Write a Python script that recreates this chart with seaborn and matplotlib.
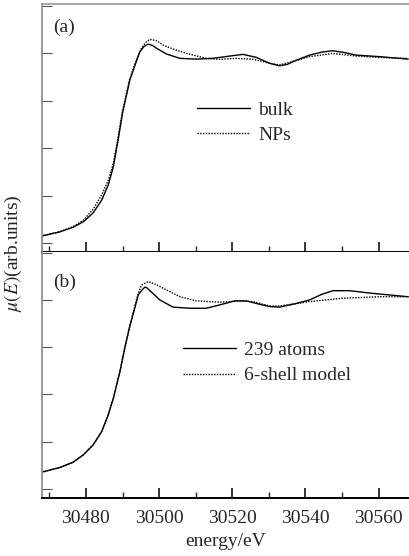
import matplotlib
matplotlib.use("Agg")
import matplotlib.pyplot as plt
import seaborn as sns
import pandas as pd
from matplotlib import font_manager
from matplotlib.ticker import MultipleLocator

# panel (a): bulk vs NPs
energy_a_bulk = [30467.9, 30472.9, 30476.5, 30479.3, 30482.0, 30484.3, 30486.1, 30487.5,
                 30488.8, 30490.0, 30492.0, 30493.4, 30494.7, 30495.9, 30497.0, 30498.2,
                 30499.3, 30502.0, 30505.7, 30510.2, 30514.7, 30519.3, 30522.9, 30526.6,
                 30530.2, 30532.9, 30535.0, 30537.0, 30541.1, 30544.5, 30547.4, 30550.5,
                 30553.9, 30560.2, 30568.1]
mu_a_bulk = [0.037, 0.059, 0.083, 0.112, 0.159, 0.226, 0.305, 0.402,
             0.542, 0.683, 0.858, 0.935, 1.005, 1.035, 1.047, 1.040,
             1.025, 0.995, 0.972, 0.968, 0.972, 0.984, 0.993, 0.977,
             0.946, 0.933, 0.940, 0.958, 0.989, 1.005, 1.012, 1.003,
             0.989, 0.981, 0.968]

energy_a_np = [30467.9, 30472.9, 30476.5, 30479.3, 30482.0, 30484.3, 30486.1, 30487.5,
               30488.8, 30490.0, 30492.0, 30493.4, 30495.2, 30496.3, 30497.5, 30499.3,
               30501.1, 30504.0, 30507.5, 30512.9, 30516.6, 30521.1, 30525.7, 30530.2,
               30532.9, 30537.0, 30541.1, 30547.4, 30554.0, 30560.2, 30568.1]
mu_a_np = [0.037, 0.060, 0.086, 0.120, 0.179, 0.253, 0.330, 0.420,
           0.558, 0.695, 0.865, 0.942, 1.026, 1.055, 1.072, 1.065,
           1.042, 1.020, 0.998, 0.972, 0.967, 0.972, 0.967, 0.946,
           0.937, 0.958, 0.981, 0.998, 0.984, 0.977, 0.971]

# panel (b): 239 atoms vs 6-shell model
energy_b_atoms = [30467.9, 30472.9, 30476.5, 30479.3, 30482.0, 30484.3, 30486.1, 30487.5,
                  30489.3, 30490.6, 30492.0, 30493.4, 30494.3, 30495.2, 30496.1, 30496.6,
                  30498.4, 30500.2, 30503.8, 30508.4, 30512.9, 30516.6, 30520.7, 30523.9,
                  30527.5, 30530.2, 30532.9, 30537.0, 30541.1, 30544.5, 30547.5, 30552.0,
                  30558.3, 30568.1]
mu_b_atoms = [0.088, 0.113, 0.141, 0.180, 0.233, 0.303, 0.392, 0.480,
              0.621, 0.744, 0.862, 0.960, 1.026, 1.050, 1.068, 1.065,
              1.033, 1.000, 0.962, 0.956, 0.956, 0.974, 0.995, 0.995,
              0.977, 0.965, 0.962, 0.979, 1.000, 1.030, 1.049, 1.049,
              1.035, 1.017]

energy_b_shell = [30467.9, 30472.9, 30476.5, 30479.3, 30482.0, 30484.3, 30486.1, 30487.5,
                  30489.3, 30490.6, 30492.0, 30493.4, 30494.3, 30495.2, 30497.0, 30499.0,
                  30501.1, 30505.7, 30510.2, 30516.6, 30522.0, 30525.7, 30530.2, 30532.9,
                  30541.1, 30550.1, 30560.2, 30568.1]
mu_b_shell = [0.088, 0.113, 0.141, 0.180, 0.233, 0.303, 0.392, 0.480,
              0.621, 0.744, 0.862, 0.970, 1.035, 1.079, 1.097, 1.083,
              1.062, 1.017, 0.995, 0.988, 0.995, 0.991, 0.968, 0.968,
              0.991, 1.009, 1.017, 1.017]

sns.set_style("ticks")
serif_names = {f.name for f in font_manager.fontManager.ttflist}
serif_pick = [n for n in ["Liberation Serif", "Times New Roman", "Nimbus Roman",
                          "DejaVu Serif"] if n in serif_names]
plt.rcParams["font.family"] = "serif"
plt.rcParams["font.serif"] = serif_pick
plt.rcParams["mathtext.fontset"] = "stix"

fig = plt.figure(figsize=(4.09, 5.56), dpi=100)
ax_a = fig.add_axes([0.1027, 0.5468, 0.8973, 0.4460])
ax_b = fig.add_axes([0.1027, 0.1052, 0.8973, 0.4416])

panels = [
    (ax_a, energy_a_bulk, mu_a_bulk, energy_a_np, mu_a_np, "bulk", "NPs", "(a)",
     (-0.047, 1.258), (0.422, 0.522), 0.905),
    (ax_b, energy_b_atoms, mu_b_atoms, energy_b_shell, mu_b_shell, "239 atoms",
     "6-shell model", "(b)", (-0.046, 1.254), (0.384, 0.548), 0.876),
]

for ax, e1, m1, e2, m2, lab1, lab2, tag, ylim, anchor, tag_y in panels:
    df1 = pd.DataFrame({"energy": e1, "mu": m1})
    df2 = pd.DataFrame({"energy": e2, "mu": m2})
    sns.lineplot(data=df1, x="energy", y="mu", ax=ax, color="black", lw=1.0,
                 label=lab1)
    sns.lineplot(data=df2, x="energy", y="mu", ax=ax, color="black", lw=1.0,
                 ls=(0, (1, 1)), label=lab2)
    ax.set_xlim(30468, 30568.3)
    ax.set_ylim(*ylim)
    ax.yaxis.set_major_locator(MultipleLocator(0.25))
    ax.xaxis.set_major_locator(MultipleLocator(20))
    ax.xaxis.set_minor_locator(MultipleLocator(10))
    ax.tick_params(axis="y", direction="in", length=7, width=0.8, color="#555555",
                   labelleft=False)
    ax.tick_params(axis="x", which="major", direction="in", length=7, width=1.3,
                   labelsize=14, pad=9)
    ax.tick_params(axis="x", which="minor", direction="in", length=4, width=1.0)
    ax.spines["right"].set_visible(False)
    ax.spines["left"].set_color("#888888")
    ax.spines["left"].set_linewidth(1.2)
    ax.spines["top"].set_color("#999999")
    ax.spines["top"].set_linewidth(1.2)
    ax.spines["bottom"].set_color("black")
    ax.spines["bottom"].set_linewidth(1.4)
    ax.set_xlabel("")
    ax.set_ylabel("")
    ax.text(0.03, tag_y, tag, transform=ax.transAxes,
            fontsize=14, va="center", ha="left")
    ax.legend(loc="center left", bbox_to_anchor=anchor, frameon=False, fontsize=14,
              handlelength=2.75, handletextpad=0.4, labelspacing=0.4, borderpad=0,
              borderaxespad=0)

ax_a.spines["top"].set_visible(True)
ax_b.spines["top"].set_visible(False)
ax_a.tick_params(axis="x", labelbottom=False)
ax_b.set_xlabel("energy/eV", fontsize=14, labelpad=4)

fig.text(0.034, 0.545, r"$\mu(E)$(arb.units)", rotation=90, fontsize=14,
         va="center", ha="center")

fig.savefig("out.png", dpi=100)
